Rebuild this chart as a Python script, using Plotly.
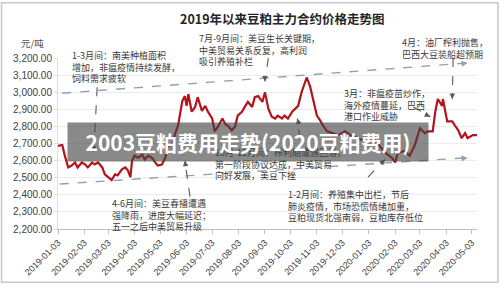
import plotly.graph_objects as go

# ---- data ----
dates = [
    "2019-01-03", "2019-01-08", "2019-01-11", "2019-01-15", "2019-01-19", "2019-01-23", "2019-01-26",
    "2019-01-31", "2019-02-04", "2019-02-07", "2019-02-12", "2019-02-15", "2019-02-19", "2019-02-24",
    "2019-02-27", "2019-03-03", "2019-03-07", "2019-03-11", "2019-03-14", "2019-03-19", "2019-03-23",
    "2019-03-26", "2019-03-29", "2019-03-31", "2019-04-03", "2019-04-07", "2019-04-12", "2019-04-15",
    "2019-04-19", "2019-04-23", "2019-04-27", "2019-04-30", "2019-05-05", "2019-05-09", "2019-05-12",
    "2019-05-17", "2019-05-20", "2019-05-24", "2019-05-29", "2019-06-01", "2019-06-03", "2019-06-05",
    "2019-06-09", "2019-06-13", "2019-06-16", "2019-06-21", "2019-06-25", "2019-06-28", "2019-07-03",
    "2019-07-06", "2019-07-10", "2019-07-15", "2019-07-18", "2019-07-22", "2019-07-26", "2019-07-30",
    "2019-08-02", "2019-08-07", "2019-08-11", "2019-08-14", "2019-08-19", "2019-08-22", "2019-08-26",
    "2019-08-31", "2019-09-03", "2019-09-07", "2019-09-11", "2019-09-15", "2019-09-18", "2019-09-23",
    "2019-09-26", "2019-09-30", "2019-10-05", "2019-10-08", "2019-10-12", "2019-10-16", "2019-10-20",
    "2019-10-22", "2019-10-26", "2019-10-29", "2019-11-03", "2019-11-07", "2019-11-10", "2019-11-15",
    "2019-11-21", "2019-11-28", "2019-12-06", "2019-12-14", "2019-12-21", "2019-12-29", "2020-01-10",
    "2020-01-22", "2020-01-30", "2020-02-03", "2020-02-06", "2020-02-14", "2020-02-20", "2020-02-26",
    "2020-03-03", "2020-03-09", "2020-03-12", "2020-03-18", "2020-03-21", "2020-03-24", "2020-03-29",
    "2020-03-30", "2020-04-04", "2020-04-10", "2020-04-13", "2020-04-17", "2020-04-21", "2020-04-25",
    "2020-04-28", "2020-05-04", "2020-05-09",
]
prices = [
    2686, 2691, 2629, 2560, 2571, 2589, 2560,
    2589, 2577, 2560, 2589, 2577, 2589, 2560,
    2520, 2503, 2486, 2520, 2514, 2549, 2560,
    2543, 2503, 2600, 2629, 2617, 2634, 2606,
    2629, 2617, 2589, 2571, 2577, 2617, 2686,
    2691, 2749, 2806, 2949, 2977, 2920, 2989,
    2886, 2914, 2971, 2891, 2920, 2886, 2846,
    2771, 2800, 2846, 2817, 2800, 2777, 2800,
    2863, 2886, 2920, 2943, 2914, 2971, 2977,
    2943, 3000, 2903, 2857, 2846, 2863, 2846,
    2863, 2846, 2886, 2903, 2920, 3000, 3057,
    3086, 3034, 2971, 2863, 2834, 2806, 2771,
    2760, 2749, 2771, 2743, 2731, 2714, 2720,
    2646, 2617, 2589, 2646, 2657, 2629, 2691,
    2789, 2760, 2771, 2771, 2886, 2960, 2920,
    2960, 2829, 2829, 2806, 2777, 2731, 2760,
    2731, 2749, 2749,
]
tick_dates = [
    "2019-01-03", "2019-02-03", "2019-03-03", "2019-04-03", "2019-05-03", "2019-06-03",
    "2019-07-03", "2019-08-03", "2019-09-03", "2019-10-03", "2019-11-03", "2019-12-03",
    "2020-01-03", "2020-02-03", "2020-03-03", "2020-04-03", "2020-05-03",
]
y_ticks = [2200, 2300, 2400, 2500, 2600, 2700, 2800, 2900, 3000, 3100, 3200]

title_text = "2019年以来豆粕主力合约价格走势图"
unit_text = "元/吨"
banner_text = "2003豆粕费用走势(2020豆粕费用)"

notes = [
    # text, x(paper), y(paper), align
    ("1-3月间：南美种植面积<br>增加，非瘟疫情持续发酵，<br>饲料需求疲软", 0.029, 1.066, "left"),
    ("7月-9月间：美豆生长关键期，<br>中美贸易关系反复，高利润<br>吸引养殖补栏", 0.332, 1.163, "left"),
    ("4月：油厂榨利抛售，<br>巴西大豆装船超预期", 0.816, 1.140, "left"),
    ("3月：非瘟疫苗炒作，<br>海外疫情蔓延，巴西<br>港口作业威胁", 0.678, 0.843, "left"),
    ("10月-12月间：榨利期遭遇回落，<br>第一阶段协议达成，中美贸易<br>向好发展，美豆下挫", 0.370, 0.500, "left"),
    ("4-6月间：美豆春播遭遇<br>强降雨，进度大幅延迟；<br>五一之后中美贸易升级", 0.124, 0.197, "left"),
    ("1-2月间：养殖集中出栏，节后<br>肺炎疫情，市场恐慌情绪加重，<br>豆粕现货北强南弱，豆粕库存低位", 0.545, 0.254, "left"),
]

# trend channel lines (start -> end), in data coordinates
trend_lines = [
    (("2019-01-08", 2994), ("2020-04-28", 3171)),
    (("2019-01-05", 2463), ("2020-04-28", 2617)),
]
# pointer arrows (tail -> head)
pointers = [
    (("2019-02-18", 3029), ("2019-02-14", 2650), 0, -7),
    (("2019-06-07", 2389), ("2019-06-01", 2600), 1, 7),
    (("2019-09-07", 3200), ("2019-09-03", 3063), 0, -7),
    (("2019-10-14", 2731), ("2019-10-11", 2846), 2, 7),
    (("2020-02-24", 2914), ("2020-03-15", 2857), -6, -3),
    (("2020-04-11", 3200), ("2020-04-10", 2960), 0, -7),
    (("2020-01-02", 2503), ("2020-01-22", 2606), -5, 5),
]

CJK = "Noto Sans CJK SC"

fig = go.Figure()
fig.add_trace(go.Scatter(
    x=dates, y=prices, mode="lines",
    line=dict(color="#b3141c", width=2.2),
    hoverinfo="skip", showlegend=False,
))

shapes = []
annotations = []

trend_color = "#8ea2b8"
for (x0, y0), (x1, y1) in trend_lines:
    shapes.append(dict(type="line", xref="x", yref="y", x0=x0, y0=y0, x1=x1, y1=y1,
                       line=dict(color=trend_color, width=1.4, dash="dash")))
    annotations.append(dict(x=x1, y=y1, xref="x", yref="y", ax=-8, ay=1, text="",
                            showarrow=True, arrowhead=2, arrowsize=1, arrowwidth=1.2,
                            arrowcolor=trend_color, standoff=0))

ptr_color = "#5a5a5a"
for (x0, y0), (x1, y1), ax, ay in pointers:
    shapes.append(dict(type="line", xref="x", yref="y", x0=x0, y0=y0, x1=x1, y1=y1,
                       line=dict(color=ptr_color, width=1.1, dash="dash")))
    annotations.append(dict(x=x1, y=y1, xref="x", yref="y", ax=ax, ay=ay, text="",
                            showarrow=True, arrowhead=2, arrowsize=1, arrowwidth=1.1,
                            arrowcolor=ptr_color, standoff=0))

for txt, px, py, al in notes:
    annotations.append(dict(x=px, y=py, xref="paper", yref="paper", text=txt,
                            showarrow=False, xanchor="left", yanchor="top", align=al,
                            font=dict(family=CJK, size=9, color="#3a3a3a")))

annotations.append(dict(x=0.535, y=1.229, xref="paper", yref="paper",
                        text="<b>" + title_text + "</b>", showarrow=False,
                        xanchor="center", yanchor="middle",
                        font=dict(family=CJK, size=12.5, color="#262626")))
annotations.append(dict(x=-0.062, y=1.086, xref="paper", yref="paper", text=unit_text,
                        showarrow=False, xanchor="center", yanchor="middle",
                        font=dict(family=CJK, size=9.5, color="#505050")))

# grey overlay banner
annotations.append(dict(x=0.4535, y=0.5086, xref="paper", yref="paper",
                        text="<b>" + banner_text + "</b>", showarrow=False,
                        xanchor="center", yanchor="middle", width=360, height=38,
                        borderpad=0, bgcolor="rgba(66,66,66,0.62)",
                        font=dict(family=CJK, size=21, color="white")))

# outer image border
shapes.append(dict(type="rect", xref="paper", yref="paper",
                   x0=-0.1348, x1=1.050, y0=-0.311, y1=1.323,
                   line=dict(color="#c8c8c8", width=1.5), fillcolor="rgba(0,0,0,0)"))

fig.update_layout(
    width=500, height=289,
    margin=dict(l=58, r=23, t=58, b=56),
    paper_bgcolor="white", plot_bgcolor="white",
    shapes=shapes, annotations=annotations,
    showlegend=False,
    xaxis=dict(
        type="date", range=["2019-01-03", "2020-05-09"],
        tickvals=tick_dates, ticktext=tick_dates, tickangle=-45,
        tickfont=dict(family="Liberation Sans", size=9, color="#404040"),
        showgrid=False, showline=True, linecolor="#bfbfbf", linewidth=1,
        ticks="outside", ticklen=4, tickcolor="#bfbfbf", zeroline=False,
    ),
    yaxis=dict(
        range=[2200, 3200], tickvals=y_ticks, tickformat=",.2f",
        tickfont=dict(family="Liberation Sans", size=10, color="#404040"),
        showgrid=True, gridcolor="#ececec", gridwidth=1,
        showline=True, linecolor="#e0e0e0", ticks="outside", ticklen=3,
        tickcolor="#e0e0e0", zeroline=False,
    ),
)

fig.write_html("out.html")
